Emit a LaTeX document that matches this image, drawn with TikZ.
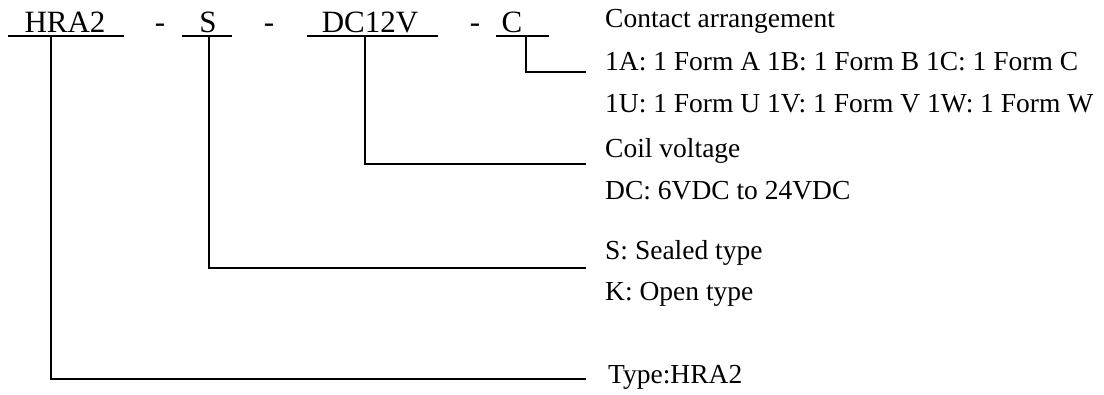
\documentclass[tikz,border=0pt]{standalone}
\usepackage{fontspec}
\setmainfont{Liberation Serif}
\usetikzlibrary{positioning}
\tikzset{
  code/.style={anchor=base, inner sep=0pt, font=\fontsize{31}{36}\selectfont},
  desc/.style={anchor=base west, inner sep=0pt, font=\fontsize{27.5}{33}\selectfont},
  wire/.style={line width=1.9pt}
}
\begin{document}
\begin{tikzpicture}[x=1pt,y=-1pt]
    \useasboundingbox (0,0) rectangle (1104,394);
    % part number
    \node[code] (hra) at (65,32) {HRA2};
    \node[code] (dashA) at (160,32) {-};
    \node[code] (seal) at (208,32) {S};
    \node[code] (dashB) at (269,32) {-};
    \node[code] (coil) at (370,32) {DC12V};
    \node[code] (dashC) at (475,32) {-};
    \node[code] (cont) at (512,32) {C};
    \draw[wire] (8,36) -- (124,36) (182,36) -- (232,36) (307,36) -- (438,36) (496,36) -- (549,36);
    % descriptions
    \node[desc] (contTitle) at (605,27) {Contact arrangement};
    \node[desc] (contRowA) at (605,70) {1A: 1 Form A 1B: 1 Form B 1C: 1 Form C};
    \node[desc] (contRowB) at (605,112) {1U: 1 Form U 1V: 1 Form V 1W: 1 Form W};
    \node[desc] (coilTitle) at (605,157) {Coil voltage};
    \node[desc] (coilRange) at (605,199) {DC: 6VDC to 24VDC};
    \node[desc] (sealS) at (605,259) {S: Sealed type};
    \node[desc] (sealK) at (605,300) {K: Open type};
    \node[desc] (typeName) at (608,383) {Type:HRA2};
    % leaders
    \coordinate (contTap) at (526,36);
    \coordinate (contEnd) at (586,72);
    \coordinate (coilTap) at (365,36);
    \coordinate (coilEnd) at (586,164);
    \coordinate (sealTap) at (209,36);
    \coordinate (sealEnd) at (586,268);
    \coordinate (hraTap) at (51,36);
    \coordinate (hraEnd) at (586,379);
    \draw[wire] (contTap) |- (contEnd);
    \draw[wire] (coilTap) |- (coilEnd);
    \draw[wire] (sealTap) |- (sealEnd);
    \draw[wire] (hraTap) |- (hraEnd);
\end{tikzpicture}
\end{document}
